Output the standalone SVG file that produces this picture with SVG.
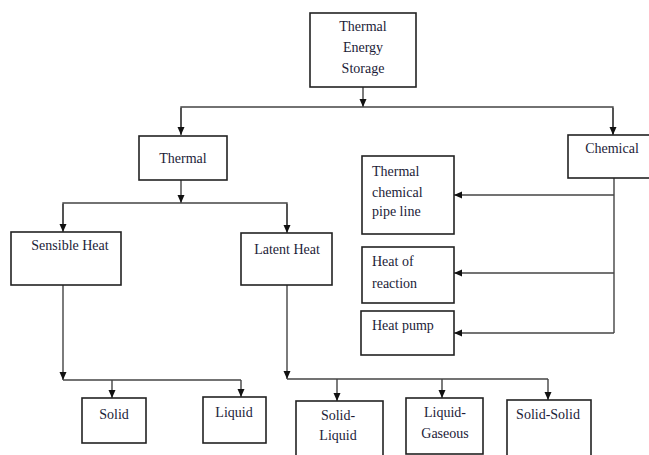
<svg xmlns="http://www.w3.org/2000/svg" width="649" height="455" viewBox="0 0 649 455">
<defs>
<marker id="ah" viewBox="0 0 8 8" refX="8" refY="4" markerWidth="8" markerHeight="8" markerUnits="userSpaceOnUse" orient="auto">
<path d="M0,0.5 L8,4 L0,7.5 Z" fill="#111"/>
</marker>
<style>
.box{fill:#fff;stroke:#222;stroke-width:1.6}
.t{font-family:"Liberation Serif","Times New Roman",serif;font-size:14px;fill:#1c1c38}
.c{text-anchor:middle}
.ln{fill:none;stroke:#444;stroke-width:1.4}
</style>
</defs>
<rect width="649" height="455" fill="#fff"/>
<g id="connectors">
<path class="ln" d="M363,87 V107" marker-end="url(#ah)"/>
<path class="ln" d="M181,134 V107 H613 V134"/>
<path class="ln" d="M181,108 V135" marker-end="url(#ah)"/>
<path class="ln" d="M613,108 V135" marker-end="url(#ah)"/>
<path class="ln" d="M181,180 V203" marker-end="url(#ah)"/>
<path class="ln" d="M63,228 V203 H287 V228"/>
<path class="ln" d="M63,204 V232" marker-end="url(#ah)"/>
<path class="ln" d="M287,204 V233" marker-end="url(#ah)"/>
<path class="ln" d="M614,178 V333"/>
<path class="ln" d="M614,195 H454" marker-end="url(#ah)"/>
<path class="ln" d="M614,273 H454" marker-end="url(#ah)"/>
<path class="ln" d="M614,333 H454" marker-end="url(#ah)"/>
<path class="ln" d="M63,285 V380" marker-end="url(#ah)"/>
<path class="ln" d="M63,380 H241"/>
<path class="ln" d="M112,380 V398" marker-end="url(#ah)"/>
<path class="ln" d="M241,380 V397" marker-end="url(#ah)"/>
<path class="ln" d="M287,285 V379" marker-end="url(#ah)"/>
<path class="ln" d="M287,379 H548"/>
<path class="ln" d="M337,379 V401" marker-end="url(#ah)"/>
<path class="ln" d="M442,379 V398" marker-end="url(#ah)"/>
<path class="ln" d="M548,379 V400" marker-end="url(#ah)"/>
</g>
<g id="tes"><rect class="box" x="310" y="13" width="106" height="74"/>
<text class="t c" x="363" y="31">Thermal</text><text class="t c" x="363" y="52">Energy</text><text class="t c" x="363" y="73">Storage</text></g>
<g id="thermal"><rect class="box" x="139" y="136" width="88" height="44"/><text class="t c" x="183" y="163">Thermal</text></g>
<g id="chemical"><rect class="box" x="568" y="135" width="82" height="43"/><text class="t c" x="612" y="153">Chemical</text></g>
<g id="pipeline"><rect class="box" x="362" y="156" width="92" height="78"/>
<text class="t" x="372" y="176">Thermal</text><text class="t" x="372" y="197">chemical</text><text class="t" x="372" y="216">pipe line</text></g>
<g id="reaction"><rect class="box" x="362" y="247" width="92" height="56"/>
<text class="t" x="372" y="266">Heat of</text><text class="t" x="372" y="288">reaction</text></g>
<g id="heatpump"><rect class="box" x="361" y="311" width="93" height="44"/><text class="t" x="372" y="330">Heat pump</text></g>
<g id="sensible"><rect class="box" x="11" y="232" width="110" height="53"/><text class="t c" x="70" y="250">Sensible Heat</text></g>
<g id="latent"><rect class="box" x="241" y="233" width="91" height="52"/><text class="t c" x="287" y="254">Latent Heat</text></g>
<g id="solid"><rect class="box" x="82" y="398" width="64" height="45"/><text class="t c" x="114" y="419">Solid</text></g>
<g id="liquid"><rect class="box" x="203" y="397" width="63" height="46"/><text class="t c" x="234" y="417">Liquid</text></g>
<g id="solidliquid"><rect class="box" x="296" y="401" width="87" height="60"/>
<text class="t c" x="338" y="420">Solid-</text><text class="t c" x="338" y="440">Liquid</text></g>
<g id="liquidgaseous"><rect class="box" x="406" y="398" width="77" height="56"/>
<text class="t c" x="445" y="417">Liquid-</text><text class="t c" x="445" y="438">Gaseous</text></g>
<g id="solidsolid"><rect class="box" x="507" y="400" width="84" height="60"/><text class="t c" x="548" y="419">Solid-Solid</text></g>
</svg>
